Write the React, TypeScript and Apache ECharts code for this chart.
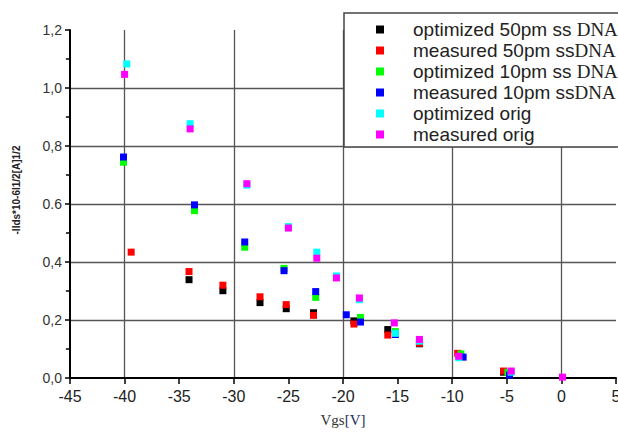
import React, { useEffect, useRef } from "react";
import * as echarts from "echarts";

const seriesNames = [
  "optimized 50pm ss DNA",
  "measured 50pm ssDNA",
  "optimized 10pm ss DNA",
  "measured 10pm ssDNA",
  "optimized orig",
  "measured orig",
];
const seriesColors = ["#000000", "#ff0000", "#00ff00", "#0000ff", "#00ffff", "#ff00ff"];

const optimized50: [number, number][] = [
  [-34.1, 0.339], [-31.0, 0.301], [-27.6, 0.26], [-25.2, 0.239], [-22.7, 0.225],
  [-19.0, 0.197], [-15.9, 0.167], [-13.0, 0.118], [-9.4, 0.08], [-5.3, 0.02],
];
const measured50: [number, number][] = [
  [-39.4, 0.434], [-34.1, 0.367], [-31.0, 0.32], [-27.6, 0.28], [-25.2, 0.253],
  [-22.7, 0.216], [-19.0, 0.186], [-15.9, 0.148], [-13.0, 0.12], [-9.5, 0.085], [-5.3, 0.024],
];
const optimized10: [number, number][] = [
  [-40.1, 0.744], [-33.6, 0.577], [-29.0, 0.451], [-25.4, 0.378], [-22.5, 0.278],
  [-18.4, 0.209], [-15.2, 0.16], [-9.2, 0.083], [-4.9, 0.02],
];
const measured10: [number, number][] = [
  [-40.1, 0.762], [-33.6, 0.597], [-29.0, 0.469], [-25.4, 0.37], [-22.5, 0.298],
  [-19.7, 0.218], [-18.4, 0.193], [-15.2, 0.15], [-9.0, 0.072], [-4.75, 0.01],
];
const optimizedOrig: [number, number][] = [
  [-39.8, 1.083], [-34.0, 0.877], [-28.8, 0.665], [-25.0, 0.522], [-22.4, 0.434],
  [-20.6, 0.352], [-18.5, 0.27], [-15.2, 0.154], [-13.0, 0.127], [-9.4, 0.07], [-4.6, 0.02],
];
const measuredOrig: [number, number][] = [
  [-40.0, 1.047], [-34.0, 0.859], [-28.8, 0.67], [-25.0, 0.517], [-22.4, 0.413],
  [-20.6, 0.345], [-18.5, 0.276], [-15.3, 0.19], [-13.0, 0.133], [-9.4, 0.075],
  [-4.6, 0.024], [0.1, 0.003],
];
const allData = [optimized50, measured50, optimized10, measured10, optimizedOrig, measuredOrig];

const yTickLabels = ["0,0", "0,2", "0,4", "0.6", "0,8", "1,0", "1,2"];
const xAxisTitle = "{a|Vgs}{b|[V]}";
const yAxisTitle = "-lIds*10-6l1/2[A]1/2";

export default function App() {
  const ref = useRef<HTMLDivElement>(null);
  useEffect(() => {
    if (!ref.current) return;
    const chart = echarts.init(ref.current, null, { renderer: "svg" });
    chart.setOption({
      animation: false,
      backgroundColor: "#ffffff",
      grid: { left: 70, right: 2, top: 30, bottom: 54, containLabel: false, outerBoundsMode: "none" },
      xAxis: {
        type: "value",
        min: -45,
        max: 5,
        interval: 5,
        name: xAxisTitle,
        nameLocation: "middle",
        nameGap: 34,
        nameTextStyle: {
          rich: {
            a: { fontFamily: "Liberation Serif", fontSize: 15, color: "#333" },
            b: { fontFamily: "Liberation Serif", fontSize: 15, color: "#1c2a5c" },
          },
        },
        axisLine: { show: true, onZero: false, lineStyle: { color: "#000", width: 2 } },
        axisTick: { show: true, inside: false, length: 6, lineStyle: { color: "#000", width: 1.5 } },
        axisLabel: {
          fontFamily: "Liberation Sans",
          fontSize: 16,
          color: "#222",
          margin: 10,
          showMaxLabel: true,
          hideOverlap: false,
        },
        splitLine: {
          show: true,
          showMinLine: true,
          showMaxLine: true,
          lineStyle: { color: ["transparent", "#555"], width: 1.3 },
        },
      },
      yAxis: {
        type: "value",
        min: 0,
        max: 1.2,
        interval: 0.2,
        axisLine: { show: true, onZero: false, lineStyle: { color: "#000", width: 2 } },
        axisTick: { show: true, inside: false, length: 5, lineStyle: { color: "#000", width: 1.5 } },
        minorTick: { show: true, splitNumber: 2, length: 4, lineStyle: { color: "#000", width: 1.5 } },
        axisLabel: {
          fontFamily: "Liberation Sans",
          fontSize: 14,
          color: "#333",
          margin: 8,
          verticalAlign: "middle",
          lineHeight: 14,
          padding: [0, 0, 6, 0],
          formatter: (v: number) => yTickLabels[Math.round(v / 0.2)] ?? "",
        },
        splitLine: {
          show: true,
          showMinLine: false,
          showMaxLine: false,
          lineStyle: { color: "#555", width: 1.3 },
        },
      },
      legend: {
        orient: "vertical",
        left: 344,
        top: 13,
        data: seriesNames,
        icon: "rect",
        itemWidth: 8,
        itemHeight: 8,
        itemGap: 0,
        padding: [6, 30, 2, 32],
        backgroundColor: "#ffffff",
        borderColor: "#444",
        borderWidth: 1.5,
        borderRadius: 0,
        z: 10,
        formatter: (name: string) =>
          name.endsWith("DNA")
            ? `{s|${name.slice(0, -3)}}{d|DNA}`
            : `{s|${name}}`,
        textStyle: {
          fontSize: 19,
          lineHeight: 21,
          color: "#222",
          padding: [0, 0, 0, 24],
          rich: {
            s: { fontFamily: "Liberation Sans", fontSize: 19, lineHeight: 21, color: "#222" },
            d: { fontFamily: "Liberation Serif", fontSize: 19, lineHeight: 21, color: "#222" },
          },
        },
      },
      graphic: [
        {
          type: "text",
          x: 16,
          y: 190,
          rotation: Math.PI / 2,
          style: {
            text: yAxisTitle,
            fontFamily: "Liberation Sans",
            fontSize: 10,
            fontWeight: "bold",
            fill: "#222",
            align: "center",
            verticalAlign: "middle",
          },
        },
      ],
      series: seriesNames.map((name, i) => ({
        name,
        type: "scatter",
        symbol: "rect",
        symbolSize: 7,
        itemStyle: { color: seriesColors[i], opacity: 1 },
        data: allData[i],
        z: 2 + i * 0.01,
      })),
    });
    return () => chart.dispose();
  }, []);
  return (
    <div
      ref={ref}
      style={{ position: "fixed", left: 0, top: 0, width: 618, height: 432 }}
    />
  );
}
